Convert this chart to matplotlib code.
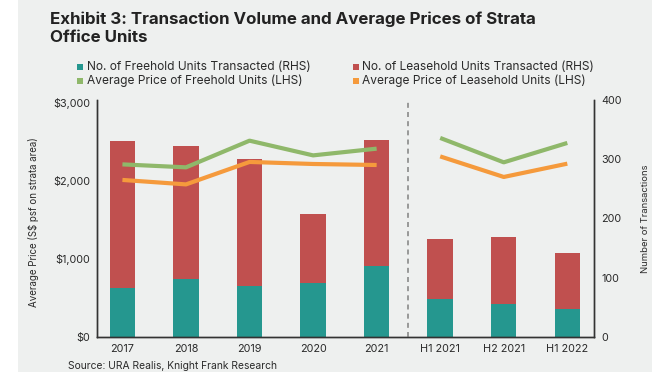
import matplotlib
matplotlib.use("Agg")
import matplotlib.pyplot as plt
from matplotlib.patches import Rectangle
import numpy as np

categories = ["2017", "2018", "2019", "2020", "2021", "H1 2021", "H2 2021", "H1 2022"]
freehold_units = [82, 98, 86, 91, 120, 64, 55, 47]
total_units = [331, 323, 300, 208, 333, 166, 169, 141]
leasehold_units = [t - f for t, f in zip(total_units, freehold_units)]
freehold_price = [2207, 2169, 2510, 2322, 2408, 2545, 2233, 2481]
leasehold_price = [2008, 1951, 2238, 2212, 2199, 2309, 2046, 2216]

left_ticks = [0, 1000, 2000, 3000]
left_labels = ["$0", "$1,000", "$2,000", "$3,000"]
right_ticks = [0, 100, 200, 300, 400]

TEAL = "#25978f"
RED = "#c0504f"
GREEN = "#8fb86a"
ORANGE = "#f59a3c"
BG = "#eef0ef"
TXT = "#2a2a2a"

plt.rcParams['font.family'] = ['Inter', 'DejaVu Sans']

fig = plt.figure(figsize=(6.61, 3.72), dpi=100)
fig.patch.set_facecolor("white")
fig.patches.append(Rectangle((18/661, 0), (652-18)/661, 1, transform=fig.transFigure,
                             facecolor=BG, edgecolor="none", zorder=-10))

ax = fig.add_axes([97/661, 1-337/372, (594-97)/661, (337-100)/372])
ax.set_facecolor("none")
ax2 = ax.twinx()

x = np.arange(len(categories))
w = 0.4
ax2.bar(x, freehold_units, width=w, color=TEAL, zorder=2)
ax2.bar(x, leasehold_units, width=w, bottom=freehold_units, color=RED, zorder=2)
ax2.set_ylim(0, 400)
ax2.set_yticks(right_ticks)

ax.set_zorder(ax2.get_zorder() + 1)
ax.plot(x[:5], freehold_price[:5], color=GREEN, lw=3.0, solid_capstyle="butt")
ax.plot(x[5:], freehold_price[5:], color=GREEN, lw=3.0, solid_capstyle="butt")
ax.plot(x[:5], leasehold_price[:5], color=ORANGE, lw=3.0, solid_capstyle="butt")
ax.plot(x[5:], leasehold_price[5:], color=ORANGE, lw=3.0, solid_capstyle="butt")
ax.set_ylim(0, 3030)
ax.set_yticks(left_ticks)
ax.set_yticklabels(left_labels)
ax.set_xlim(-0.4, 7.42)
ax.set_xticks(x)
ax.set_xticklabels(categories)

ax.axvline(4.5, color="#8a8a8a", lw=1.2, ls=(0, (3, 2.5)), zorder=1)

for a in (ax, ax2):
    a.spines["top"].set_visible(False)
    for s in ("left", "right", "bottom"):
        a.spines[s].set_color("#333333")
        a.spines[s].set_linewidth(1.0)
    a.tick_params(length=0, labelsize=7.8, colors=TXT, pad=5)

ax.set_ylabel("Average Price (S$ psf on strata area)", fontsize=7.0, color=TXT)
ax.yaxis.set_label_coords((39-97)/(594-97), (337-222)/(337-100))
ax2.set_ylabel("Number of Transactions", fontsize=6.8, color=TXT, labelpad=14)

fig.text(50/661, 1-24/372, "Exhibit 3: Transaction Volume and Average Prices of Strata",
         fontsize=12.2, fontweight="bold", color="#222222", va="baseline", ha="left")
fig.text(50/661, 1-42/372, "Office Units",
         fontsize=12.2, fontweight="bold", color="#222222", va="baseline", ha="left")

legend_items = [
    (80, 67, 87, TEAL, "No. of Freehold Units Transacted (RHS)"),
    (355.5, 67, 362, RED, "No. of Leasehold Units Transacted (RHS)"),
    (80, 81, 87, GREEN, "Average Price of Freehold Units (LHS)"),
    (355.5, 81, 362, ORANGE, "Average Price of Leasehold Units (LHS)"),
]
for mx, py, tx, c, label in legend_items:
    fig.patches.append(Rectangle(((mx - 3)/661, 1-(py + 3)/372), 6/661, 6/372,
                                 transform=fig.transFigure, facecolor=c, edgecolor="none"))
    fig.text(tx/661, 1-py/372, label, fontsize=8.6, color=TXT, va="center", ha="left")

fig.text(68/661, 1-366/372, "Source: URA Realis, Knight Frank Research",
         fontsize=7.4, color=TXT, va="center", ha="left")

fig.savefig("out.png", dpi=100, facecolor=fig.get_facecolor())
